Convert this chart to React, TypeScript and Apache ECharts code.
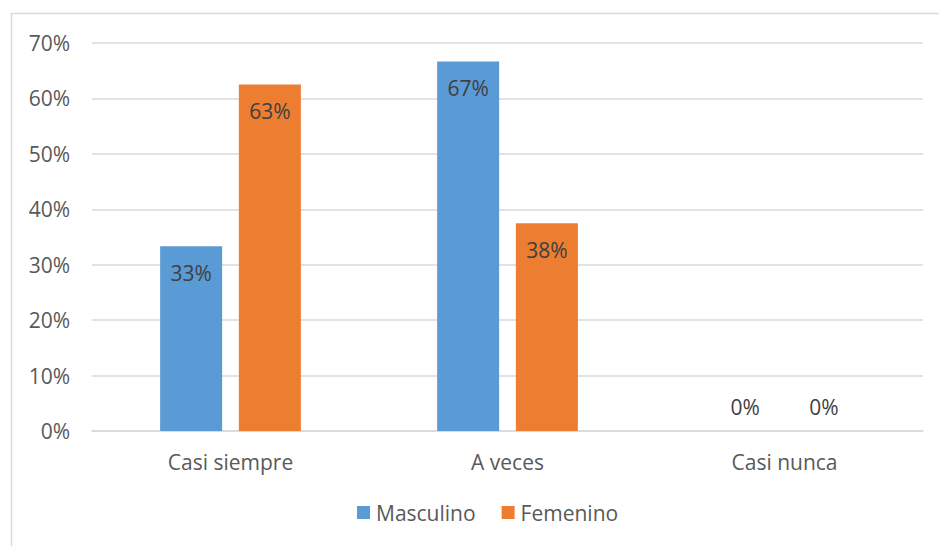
import React, { useEffect, useRef } from "react";
import * as echarts from "echarts";

const categories = ["Casi siempre", "A veces", "Casi nunca"];
const masculino = [0.3333, 0.6667, 0];
const femenino = [0.625, 0.375, 0];
const seriesNames = ["Masculino", "Femenino"];
const yTicks = [0, 0.1, 0.2, 0.3, 0.4, 0.5, 0.6, 0.7];

const FONT = "Open Sans";
const FS = 21;

function makeData(values: number[]) {
  return values.map((v) =>
    v === 0
      ? { value: v, label: { position: "top", distance: 14 } }
      : { value: v }
  );
}

export default function App() {
  const ref = useRef<HTMLDivElement>(null);
  useEffect(() => {
    if (!ref.current) return;
    const chart = echarts.init(ref.current, undefined, { renderer: "svg" });
    const labelCfg = {
      show: true,
      position: "insideTop",
      distance: 16,
      color: "#404040",
      fontFamily: FONT,
      fontSize: FS,
      formatter: (p: any) => Math.round(p.value * 100) + "%",
    };
    chart.setOption({
      animation: false,
      backgroundColor: "#ffffff",
      textStyle: { fontFamily: FONT },
      graphic: [
        {
          type: "rect",
          shape: { x: 11.5, y: 13.5, width: 1000, height: 700 },
          style: { fill: "none", stroke: "#d9d9d9", lineWidth: 1.5 },
          silent: true,
        },
      ],
      grid: { left: 92, right: 16, top: 43, bottom: 115, containLabel: false },
      legend: {
        data: seriesNames,
        bottom: 18,
        left: 352,
        itemWidth: 13,
        itemHeight: 13,
        itemGap: 26,
        icon: "rect",
        textStyle: { color: "#595959", fontSize: FS, fontFamily: FONT, padding: [0, 0, 0, 1] },
      },
      xAxis: {
        type: "category",
        data: categories,
        axisLine: { show: true, lineStyle: { color: "#d9d9d9", width: 1.5 } },
        axisTick: { show: false },
        axisLabel: { color: "#595959", fontSize: FS, fontFamily: FONT, margin: 20 },
      },
      yAxis: {
        type: "value",
        min: 0,
        max: yTicks[yTicks.length - 1],
        interval: 0.1,
        axisLine: { show: false },
        axisTick: { show: false },
        splitLine: { lineStyle: { color: "#d9d9d9", width: 1.5 } },
        axisLabel: {
          color: "#595959",
          fontSize: FS,
          fontFamily: FONT,
          margin: 22,
          formatter: (v: number) => Math.round(v * 100) + "%",
        },
      },
      series: [
        {
          name: seriesNames[0],
          type: "bar",
          data: makeData(masculino),
          barWidth: 62,
          barGap: "27%",
          itemStyle: { color: "#5B9BD5" },
          label: labelCfg,
        },
        {
          name: seriesNames[1],
          type: "bar",
          data: makeData(femenino),
          barWidth: 62,
          barGap: "27%",
          itemStyle: { color: "#ED7D31" },
          label: labelCfg,
        },
      ],
    });
    return () => chart.dispose();
  }, []);
  return (
    <div
      ref={ref}
      style={{ position: "fixed", left: 0, top: 0, width: 939, height: 546 }}
    />
  );
}
